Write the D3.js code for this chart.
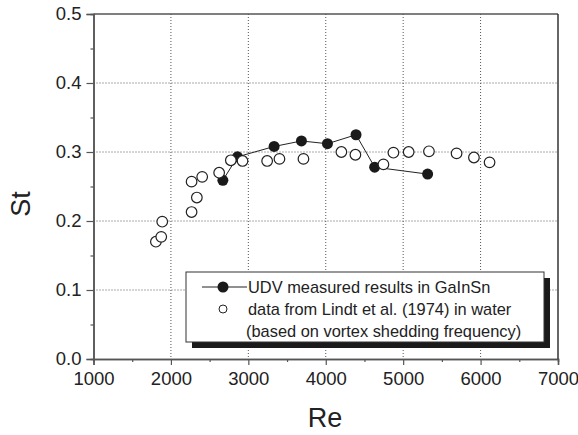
<!DOCTYPE html>
<html>
<head>
<meta charset="utf-8">
<script src="https://cdn.jsdelivr.net/npm/d3@7"></script>
<style>
  body { margin: 0; background: #fff; }
  text { font-family: "Liberation Sans", Arial, sans-serif; fill: #222; }
</style>
</head>
<body>
<div id="chart"></div>
<script>
// UDV measurements in GaInSn (filled, connected)
var udvRe = [2671, 2860, 3333, 3686, 4022, 4391, 4632, 5316];
var udvSt = [0.259, 0.293, 0.308, 0.316, 0.312, 0.325, 0.278, 0.268];

// Lindt et al. (1974) water data (open)
var lindtRe = [1806, 1875, 1888, 2267, 2335, 2267, 2404, 2623, 2774, 2925, 3243, 3402, 3712, 4202, 4383, 4745, 4874, 5071, 5333, 5690, 5914, 6116];
var lindtSt = [0.170, 0.177, 0.199, 0.213, 0.234, 0.257, 0.264, 0.270, 0.288, 0.287, 0.287, 0.290, 0.290, 0.300, 0.296, 0.282, 0.299, 0.300, 0.301, 0.298, 0.292, 0.285];

var xTicks = [1000, 2000, 3000, 4000, 5000, 6000, 7000];
var yTicks = [0.0, 0.1, 0.2, 0.3, 0.4, 0.5];
var legendLabels = ["UDV measured results in GaInSn", "data from Lindt et al. (1974) in water", "(based on vortex shedding frequency)"];

var svgWidth = 578;
var svgHeight = 435;
var margin = { top: 14, right: 20, bottom: 76, left: 93.5 };
var width = 558 - margin.left;
var height = 359 - margin.top;

var svg = d3.select("#chart")
  .append("svg")
  .attr("width", svgWidth)
  .attr("height", svgHeight);

var chartGroup = svg.append("g")
  .attr("transform", `translate(${margin.left}, ${margin.top})`);

var x = d3.scaleLinear().domain([1000, 7000]).range([0, width]);
var y = d3.scaleLinear().domain([0, 0.5]).range([height, 0]);

// gridlines
chartGroup.append("g")
  .selectAll("line")
  .data(xTicks.slice(1, -1))
  .enter().append("line")
  .attr("x1", d => x(d)).attr("x2", d => x(d))
  .attr("y1", 0).attr("y2", height)
  .attr("stroke", "#555").attr("stroke-width", 1)
  .attr("stroke-dasharray", "1,2");

chartGroup.append("g")
  .selectAll("line")
  .data(yTicks.slice(1, -1))
  .enter().append("line")
  .attr("x1", 0).attr("x2", width)
  .attr("y1", d => y(d)).attr("y2", d => y(d))
  .attr("stroke", "#555").attr("stroke-width", 1)
  .attr("stroke-dasharray", "1,2");

// axes
var minorX = d3.range(1500, 7000, 1000);
var minorY = d3.range(0.05, 0.5, 0.1);

var bottomAxis = d3.axisBottom(x).tickValues(xTicks).tickSize(6).tickPadding(7).tickFormat(d3.format("d"));
var leftAxis = d3.axisLeft(y).tickValues(yTicks).tickSize(7).tickPadding(5).tickFormat(d3.format(".1f"));

var gx = chartGroup.append("g")
  .attr("transform", `translate(0, ${height})`)
  .call(bottomAxis);
gx.append("g").call(d3.axisBottom(x).tickValues(minorX).tickSize(3).tickFormat(""));

var gy = chartGroup.append("g").call(leftAxis);
gy.append("g").call(d3.axisLeft(y).tickValues(minorY).tickSize(3).tickFormat(""));

chartGroup.selectAll(".domain").attr("stroke", "#555").attr("stroke-width", 1.5);
chartGroup.selectAll(".tick line").attr("stroke", "#555").attr("stroke-width", 1.2);
chartGroup.selectAll(".tick text").attr("font-size", "18.5px").attr("fill", "#222")
  .attr("font-family", "'Liberation Sans', Arial, sans-serif");

// top and right frame
chartGroup.append("line")
  .attr("x1", 0).attr("x2", width).attr("y1", 0).attr("y2", 0)
  .attr("stroke", "#555").attr("stroke-width", 1.5);
chartGroup.append("line")
  .attr("x1", width).attr("x2", width).attr("y1", 0).attr("y2", height)
  .attr("stroke", "#333").attr("stroke-width", 1.5);

// UDV connecting line
var udvData = udvRe.map((d, i) => ({ re: d, st: udvSt[i] }));
var lindtData = lindtRe.map((d, i) => ({ re: d, st: lindtSt[i] }));

chartGroup.append("path")
  .datum(udvData)
  .attr("fill", "none")
  .attr("stroke", "#222")
  .attr("stroke-width", 1)
  .attr("d", d3.line().x(d => x(d.re)).y(d => y(d.st)));

chartGroup.selectAll(".udv")
  .data(udvData)
  .enter().append("circle")
  .attr("class", "udv")
  .attr("cx", d => x(d.re))
  .attr("cy", d => y(d.st))
  .attr("r", 5.5)
  .attr("fill", "#1a1a1a");

chartGroup.selectAll(".lindt")
  .data(lindtData)
  .enter().append("circle")
  .attr("class", "lindt")
  .attr("cx", d => x(d.re))
  .attr("cy", d => y(d.st))
  .attr("r", 5.3)
  .attr("fill", "#fff")
  .attr("stroke", "#222")
  .attr("stroke-width", 1.2);

// legend
var legend = svg.append("g").attr("transform", "translate(186, 272)");
legend.append("rect")
  .attr("x", 6).attr("y", 6).attr("width", 358).attr("height", 70)
  .attr("fill", "#1a1a1a");
legend.append("rect")
  .attr("x", 0).attr("y", 0).attr("width", 358).attr("height", 70)
  .attr("fill", "#fff").attr("stroke", "#333").attr("stroke-width", 1);

legend.append("line")
  .attr("x1", 16).attr("x2", 61).attr("y1", 15).attr("y2", 15)
  .attr("stroke", "#222").attr("stroke-width", 1);
legend.append("circle")
  .attr("cx", 37).attr("cy", 15).attr("r", 5.5).attr("fill", "#1a1a1a");
legend.append("circle")
  .attr("cx", 37).attr("cy", 37).attr("r", 4)
  .attr("fill", "#fff").attr("stroke", "#222").attr("stroke-width", 1);

legend.selectAll(".leg-text")
  .data(legendLabels)
  .enter().append("text")
  .attr("class", "leg-text")
  .attr("x", (d, i) => i === 2 ? 60 : 62)
  .attr("y", (d, i) => 15 + i * 22)
  .attr("dy", "0.35em")
  .attr("font-size", "16.4px")
  .text(d => d);

// axis labels
svg.append("text")
  .attr("transform", "translate(325, 427)")
  .attr("text-anchor", "middle")
  .attr("font-size", "27px")
  .text("Re");

svg.append("text")
  .attr("transform", "translate(30, 204) rotate(-90)")
  .attr("text-anchor", "middle")
  .attr("font-size", "27px")
  .text("St");
</script>
</body>
</html>
